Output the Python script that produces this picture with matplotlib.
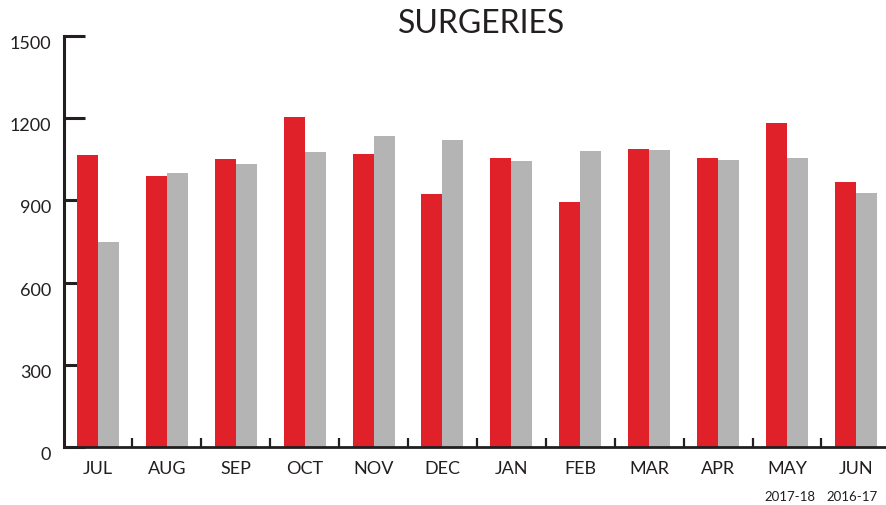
import numpy as np
import matplotlib
matplotlib.use("Agg")
import matplotlib.pyplot as plt

plt.rcParams['font.family'] = ['Lato', 'DejaVu Sans']

meses = ['JUL', 'AUG', 'SEP', 'OCT', 'NOV', 'DEC', 'JAN', 'FEB', 'MAR', 'APR', 'MAY', 'JUN']
cirugias_1718 = [1066, 990, 1051, 1204, 1069, 923, 1055, 894, 1088, 1055, 1182, 967]
cirugias_1617 = [748, 1000, 1033, 1077, 1135, 1120, 1044, 1080, 1084, 1047, 1055, 927]
periodos = ['2017-18', '2016-17']

rojo = '#E0212A'
gris = '#B4B4B4'
oscuro = '#231F20'

fig = plt.figure(figsize=(8.87, 5.05), dpi=100)
ax = fig.add_axes([63.5 / 887, 1 - 447 / 505, 1 - 63.5 / 887, (447 - 36) / 505])

x = np.arange(len(meses))
ancho = 0.305
ax.bar(x - ancho / 2, cirugias_1718, ancho, color=rojo, zorder=1)
ax.bar(x + ancho / 2, cirugias_1617, ancho, color=gris, zorder=1)

ax.set_xlim(-0.5, -0.5 + (887 - 63.5) / 68.9)
ax.set_ylim(0, 1500)
ax.set_axisbelow(True)

for s in ['top', 'right']:
    ax.spines[s].set_visible(False)
ax.spines['left'].set_linewidth(2.2)
ax.spines['bottom'].set_linewidth(2.0)
ax.spines['left'].set_color(oscuro)
ax.spines['bottom'].set_color(oscuro)

ax.set_yticks([0, 300, 600, 900, 1200, 1500])
ax.tick_params(axis='y', direction='in', length=15, width=2.2, color=oscuro,
               pad=9, labelsize=13, labelcolor=oscuro)
for lbl in ax.get_yticklabels():
    lbl.set_va('top')

ax.set_xticks(x)
ax.set_xticklabels(meses)
ax.tick_params(axis='x', which='major', length=0, pad=10, labelsize=13, labelcolor=oscuro)
ax.set_xticks(np.arange(len(meses) - 1) + 0.5, minor=True)
ax.tick_params(axis='x', which='minor', direction='in', length=6.5, width=1.6, color=oscuro)

fig.text(482 / 887, 1 - 24 / 505, 'SURGERIES', ha='center', va='center',
         fontsize=23, color=oscuro)
fig.text(790 / 887, 1 - 497 / 505, periodos[0], ha='center', va='center',
         fontsize=9.5, color=oscuro)
fig.text(852 / 887, 1 - 497 / 505, periodos[1], ha='center', va='center',
         fontsize=9.5, color=oscuro)

fig.savefig('out.png', dpi=100)
